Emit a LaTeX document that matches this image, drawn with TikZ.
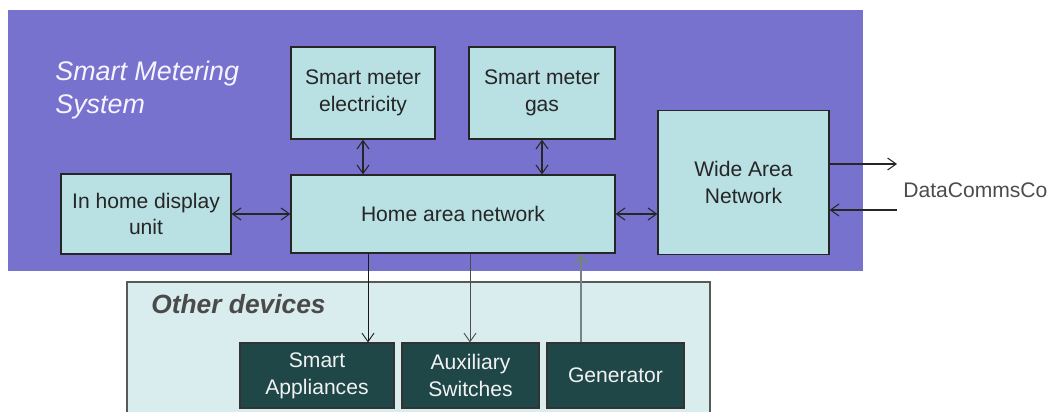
\documentclass[tikz,border=0pt]{standalone}
\usepackage{fontspec}
\setmainfont{Liberation Sans}
\usetikzlibrary{arrows.meta}

\definecolor{smsbg}{HTML}{7672CE}
\definecolor{meterfill}{HTML}{B9E0E3}
\definecolor{devbg}{HTML}{D9ECEE}
\definecolor{devfill}{HTML}{1F4747}
\definecolor{devtitle}{HTML}{4A4A4A}

\begin{document}
\begin{tikzpicture}[x=0.02cm,y=-0.02cm,
                    >={Straight Barb[length=1.7mm,width=2.4mm]},
                    meter node/.style={draw=black!85,line width=0.7pt,fill=meterfill,
                      text=black!85,align=center,inner sep=0pt,
                      font=\fontsize{12}{15}\selectfont},
                    device node/.style={draw=black!80,line width=0.7pt,fill=devfill,
                      text=white!95!black,align=center,inner sep=0pt,
                      minimum height=1.3cm,font=\fontsize{12}{15.5}\selectfont}]

  \useasboundingbox (0,0) rectangle (1052,412);
  \clip (0,0) rectangle (1052,412);

  % backgrounds
  \fill[smsbg] (8,10) rectangle (863,271);
  \filldraw[fill=devbg,draw=black!65,line width=0.7pt] (127,282) rectangle (710,430);

  \node[anchor=north west,inner sep=0pt,align=left,text=white!96!blue,
        font=\fontsize{15.3}{18.7}\selectfont\itshape] (sms) at (55,61)
        {Smart Metering\\System};
  \node[anchor=base west,inner sep=0pt,text=devtitle,
        font=\fontsize{15}{18}\selectfont\bfseries\itshape] (other) at (151,313)
        {Other devices};

  % smart metering system
  \node[meter node,minimum width=2.88cm,minimum height=1.84cm] (elec) at (363,93)
        {Smart meter\\electricity};
  \node[meter node,minimum width=2.92cm,minimum height=1.84cm] (gas) at (542,93)
        {Smart meter\\gas};
  \node[meter node,minimum width=3.4cm,minimum height=1.6cm] (ihd) at (146,214)
        {In home display\\unit};
  \node[meter node,minimum width=6.48cm,minimum height=1.56cm] (han) at (453,214)
        {Home area network};
  \node[meter node,minimum width=3.42cm,minimum height=2.88cm] (wan) at (743.5,182.5)
        {Wide Area\\Network};

  % other devices
  \node[device node,minimum width=3.08cm] (app) at (317,375.5) {Smart\\Appliances};
  \node[device node,minimum width=2.74cm] (aux) at (470.5,375.5) {Auxiliary\\Switches};
  \node[device node,minimum width=2.74cm] (gen) at (615.5,375.5) {Generator};

  \node[anchor=west,inner sep=0pt,text=black!70,font=\fontsize{12}{15}\selectfont]
        (dcc) at (903,190) {DataCommsCo};

  \coordinate (dcout) at (897,164);
  \coordinate (dcin) at (897,210);
  \coordinate (appx) at (368,0);
  \coordinate (auxx) at (470,0);
  \coordinate (genx) at (581,0);

  \path[line width=0.6pt,draw=black!85]
    (elec.south) edge[<->] (elec.south |- han.north)
    (gas.south) edge[<->] (gas.south |- han.north)
    (ihd.east) edge[<->] (han.west)
    (han.east) edge[<->] (wan.west |- han.east)
    (wan.east |- dcout) edge[->] (dcout)
    (dcin) edge[->] (wan.east |- dcin);

  \path[line width=0.5pt]
    (han.south -| appx) edge[->,draw=black!90] (app.north -| appx)
    (han.south -| auxx) edge[->,draw=black!70] (aux.north -| auxx)
    (gen.north -| genx) edge[->,draw=black!45!devbg,line width=1.2pt] (han.south -| genx);
\end{tikzpicture}
\end{document}
